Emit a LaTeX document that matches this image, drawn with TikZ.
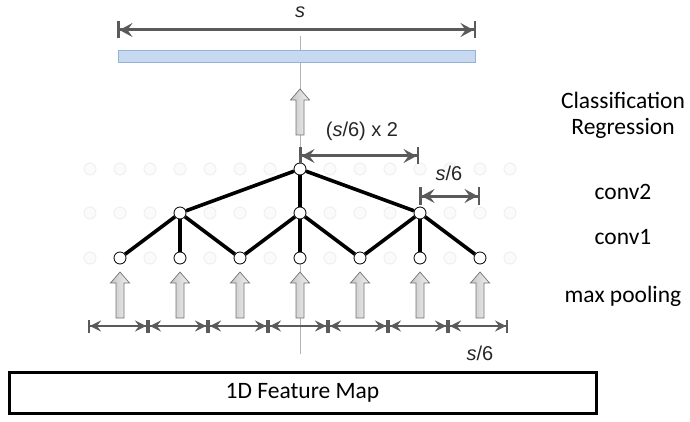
\documentclass[tikz,border=0pt]{standalone}
\usepackage{fontspec}
\setmainfont{Carlito}
\newfontfamily\arialf{Liberation Sans}
\usetikzlibrary{arrows.meta}
\definecolor{dimgray}{HTML}{5A5A5A}
\definecolor{barfill}{HTML}{C6D9F1}
\definecolor{bardraw}{HTML}{95B3D7}
\tikzset{
  dimline/.style={draw=dimgray, line width=3pt,
    arrows={Bar[width=17pt,line width=2.5pt,sep=0pt] Stealth[length=13pt,width=14pt,inset=5pt,sep=0pt]-Stealth[length=13pt,width=14pt,inset=5pt,sep=0pt] Bar[width=17pt,line width=2.5pt,sep=0pt]}},
  dimsmall/.style={draw=dimgray, line width=2pt,
    arrows={Bar[width=13pt,line width=2pt,sep=0pt] Stealth[length=11pt,width=11pt,inset=4pt,sep=0pt]-Stealth[length=11pt,width=11pt,inset=4pt,sep=0pt] Bar[width=13pt,line width=2pt,sep=0pt]}},
  nd/.style={circle, draw=black, line width=0.8pt, fill=white, minimum size=12pt, inner sep=0pt},
  ghost/.style={circle, draw=black!6, fill=black!1.5, line width=1pt, minimum size=12pt, inner sep=0pt},
  edge/.style={draw=black, line width=3.6pt},
  lbl/.style={font=\fontsize{23.5}{25}\selectfont, inner sep=0pt},
  slbl/.style={font=\arialf\fontsize{20}{22}\selectfont, text=black!85, inner sep=0pt},
  blockarrow/.pic={\path[draw=black!55, line width=0.7pt, left color=black!22, right color=black!6]
     (-4,0) -- (-4,-35) -- (-9.5,-35) -- (0,-46) -- (9.5,-35) -- (4,-35) -- (4,0) -- cycle;}
}
\begin{document}
\begin{tikzpicture}[x=1pt,y=-1pt]
\useasboundingbox (0,0) rectangle (690,422);
% thin centre line
\coordinate (ct) at (300,36);
\coordinate (cb) at (300,354);
\draw[black!30, line width=0.7pt] (ct) -- (cb);
% ghost circles
\foreach \r/\yy in {a/169,b/213,c/258}{
  \foreach \k in {0,...,14}{
    \node[ghost] (g\r\k) at ({90+30*\k},\yy) {};
  }
}
% top dimension
\coordinate (s1) at (117,30);
\coordinate (s2) at (476,30);
\draw[dimline] (s1) -- (s2);
\node[slbl] (slab) at (300,12) {\itshape s};
% blue bar
\node[draw=bardraw, fill=barfill, line width=0.8pt, minimum width=357pt, minimum height=12pt, inner sep=0pt] (bar) at (296.5,56) {};
% top block arrow
\pic (up0) at (300,135) {blockarrow};
% tree nodes
\node[nd] (r) at (300,169) {};
\node[nd] (m1) at (180,213) {};
\node[nd] (m2) at (300,213) {};
\node[nd] (m3) at (420,213) {};
\foreach \i/\xx in {1/120,2/180,3/240,4/300,5/360,6/420,7/480}{
  \node[nd] (b\i) at (\xx,258) {};
}
\draw[edge] (r) -- (m1);
\draw[edge] (r) -- (m2);
\draw[edge] (r) -- (m3);
\draw[edge] (m1) -- (b1);
\draw[edge] (m1) -- (b2);
\draw[edge] (m1) -- (b3);
\draw[edge] (m2) -- (b3);
\draw[edge] (m2) -- (b4);
\draw[edge] (m2) -- (b5);
\draw[edge] (m3) -- (b5);
\draw[edge] (m3) -- (b6);
\draw[edge] (m3) -- (b7);
% dimension (s/6) x 2
\coordinate (d1) at (299,156);
\coordinate (d2) at (419,156);
\draw[dimline] (d1) -- (d2);
\node[slbl] (lab2) at (362,131) {(\textit{s}/6) x 2};
% dimension s/6
\coordinate (e1) at (419,196);
\coordinate (e2) at (480,196);
\draw[dimline] (e1) -- (e2);
\node[slbl] (lab3) at (449,173) {\textit{s}/6};
% bottom block arrows
\foreach \i/\xx in {1/120,2/180,3/240,4/300,5/360,6/420,7/480}{
  \pic (ba\i) at (\xx,318) {blockarrow};
}
% bottom dimensions
\foreach \i in {0,...,7}{
  \coordinate (p\i) at ({88+60*\i},326);
}
\foreach \i [evaluate=\i as \j using int(\i+1)] in {0,...,6}{
  \draw[dimsmall] (p\i) -- (p\j);
}
\node[slbl] (lab4) at (480,353) {\textit{s}/6};
% right labels
\node[lbl] (cls) at (623,100) {Classification};
\node[lbl] (reg) at (623,128) {Regression};
\node[lbl] (c2) at (623,192) {conv2};
\node[lbl] (c1) at (623,237) {conv1};
\node[lbl] (mp) at (623,296) {max pooling};
% feature map box
\node[draw=black, line width=3pt, minimum width=587pt, minimum height=41pt, inner sep=0pt, font=\fontsize{23.5}{25}\selectfont] (fm) at (302.5,392.5) {1D Feature Map};
\end{tikzpicture}
\end{document}
